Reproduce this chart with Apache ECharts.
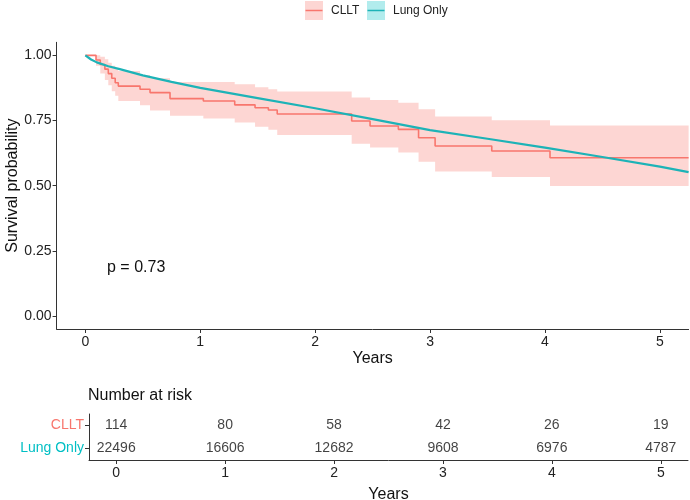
<!DOCTYPE html>
<html>
<head>
<meta charset="utf-8">
<script src="https://cdn.jsdelivr.net/npm/echarts@6/dist/echarts.min.js"></script>
<style>html,body{margin:0;padding:0;background:#fff}#c{width:690px;height:500px}</style>
</head>
<body>
<div id="c"></div>
<script>
// ---- data ----
const clltTime  = [0, 0.093, 0.13, 0.17, 0.2, 0.23, 0.26, 0.287, 0.476, 0.563, 0.737, 1.027, 1.30, 1.477, 1.593, 1.67, 2.318, 2.478, 2.724, 2.9, 3.044, 3.537, 4.044, 5.25];
const clltSurv  = [1.0, 0.982, 0.965, 0.947, 0.93, 0.912, 0.895, 0.882, 0.870, 0.857, 0.834, 0.825, 0.810, 0.799, 0.790, 0.775, 0.748, 0.729, 0.716, 0.684, 0.652, 0.633, 0.607, 0.607];
const clltUpper = [1.0, 1.0, 0.995, 0.985, 0.972, 0.960, 0.948, 0.940, 0.925, 0.912, 0.898, 0.898, 0.889, 0.878, 0.870, 0.861, 0.838, 0.829, 0.818, 0.793, 0.765, 0.751, 0.731, 0.731];
const clltLower = [1.0, 0.960, 0.930, 0.905, 0.885, 0.862, 0.845, 0.825, 0.808, 0.788, 0.768, 0.758, 0.742, 0.726, 0.714, 0.694, 0.661, 0.646, 0.627, 0.592, 0.554, 0.533, 0.499, 0.499];

const lungTime = [0, 0.05, 0.1, 0.2, 0.3, 0.5, 0.75, 1.0, 1.5, 2.0, 2.5, 3.0, 3.5, 4.0, 4.5, 5.0, 5.25];
const lungSurv = [1.0, 0.984, 0.973, 0.958, 0.947, 0.923, 0.898, 0.875, 0.836, 0.797, 0.755, 0.713, 0.680, 0.646, 0.610, 0.573, 0.552];

const yTicks = [0, 0.25, 0.5, 0.75, 1.0];
const xTicks = [0, 1, 2, 3, 4, 5];
const groups = ['CLLT', 'Lung Only'];
const riskTimes = [0, 1, 2, 3, 4, 5];
const clltRisk = [114, 80, 58, 42, 26, 19];
const lungRisk = [22496, 16606, 12682, 9608, 6976, 4787];
const pText = 'p = 0.73';

// ---- chart ----
const RED = '#F8766D', TEAL = '#00BFC4', TEAL_LINE = '#1DB3B7';
const FONT = '"Liberation Sans", Arial, sans-serif';
const chart = echarts.init(document.getElementById('c'));

const axisLineStyle = {color: '#333', width: 1};
const xAxisCommon = {
  type: 'value', min: -0.25, max: 5.25,
  axisLine: {show: true, onZero: false, lineStyle: axisLineStyle},
  axisTick: {show: true, length: 4, customValues: xTicks, lineStyle: axisLineStyle},
  axisLabel: {customValues: xTicks, margin: 6, fontSize: 14, color: '#222', fontFamily: FONT, formatter: v => String(v)},
  splitLine: {show: false},
  name: 'Years', nameLocation: 'middle', nameMoveOverlap: false,
  nameTextStyle: {fontSize: 16, color: '#111', fontFamily: FONT}
};

// confidence band: step polygon built through the axis scale (api.coord)
function renderBand(params, api) {
  const top = [], bottom = [];
  for (let i = 0; i < clltTime.length - 1; i++) {
    top.push(api.coord([clltTime[i], clltUpper[i]]));
    top.push(api.coord([clltTime[i + 1], clltUpper[i]]));
    bottom.push(api.coord([clltTime[i], clltLower[i]]));
    bottom.push(api.coord([clltTime[i + 1], clltLower[i]]));
  }
  const pts = top.concat(bottom.reverse());
  return {
    type: 'polygon',
    shape: {points: pts},
    style: {fill: 'rgba(248,118,109,0.3)', stroke: null}
  };
}

chart.setOption({
  animation: false,
  backgroundColor: '#fff',
  title: {
    text: 'Number at risk', left: 88, top: 388, padding: 0,
    textStyle: {fontSize: 16, fontWeight: 'normal', color: '#111', fontFamily: FONT}
  },
  grid: [
    {left: 56.6, top: 42.3, width: 632, height: 286.7, containLabel: false, outerBoundsMode: 'none'},
    {left: 89, top: 414, width: 599, height: 46, containLabel: false, outerBoundsMode: 'none'}
  ],
  xAxis: [
    Object.assign({}, xAxisCommon, {gridIndex: 0, nameGap: 22}),
    Object.assign({}, xAxisCommon, {gridIndex: 1, nameGap: 27})
  ],
  yAxis: [
    {
      gridIndex: 0, type: 'value', min: -0.05, max: 1.05,
      axisLine: {show: true, onZero: false, lineStyle: axisLineStyle},
      axisTick: {show: true, length: 4, customValues: yTicks, lineStyle: axisLineStyle},
      axisLabel: {customValues: yTicks, margin: 5, fontSize: 14, color: '#222', fontFamily: FONT, formatter: v => v.toFixed(2)},
      splitLine: {show: false},
      name: 'Survival probability', nameLocation: 'middle', nameGap: 36, nameMoveOverlap: false,
      nameTextStyle: {fontSize: 16, color: '#111', fontFamily: FONT}
    },
    {
      gridIndex: 1, type: 'category', data: groups, inverse: true,
      axisLine: {show: true, onZero: false, lineStyle: axisLineStyle},
      axisTick: {show: true, length: 4, alignWithLabel: true, lineStyle: axisLineStyle},
      axisLabel: {margin: 5, fontSize: 14, fontFamily: FONT,
        color: (v) => v === 'CLLT' ? RED : TEAL},
      splitLine: {show: false}
    }
  ],
  graphic: [
    // legend
    {type: 'rect', shape: {x: 305, y: 1, width: 18, height: 19}, style: {fill: 'rgba(248,118,109,0.3)'}},
    {type: 'line', shape: {x1: 305.5, y1: 10.5, x2: 322.5, y2: 10.5}, style: {stroke: RED, lineWidth: 1.5}},
    {type: 'text', x: 331, y: 10.5, style: {text: groups[0], fontSize: 12, fontFamily: FONT, fill: '#222', verticalAlign: 'middle'}},
    {type: 'rect', shape: {x: 367, y: 1, width: 18, height: 19}, style: {fill: 'rgba(0,191,196,0.3)'}},
    {type: 'line', shape: {x1: 367.5, y1: 10.5, x2: 384.5, y2: 10.5}, style: {stroke: TEAL_LINE, lineWidth: 1.5}},
    {type: 'text', x: 393, y: 10.5, style: {text: groups[1], fontSize: 12, fontFamily: FONT, fill: '#222', verticalAlign: 'middle'}},
    // p-value
    {type: 'text', x: 107, y: 268, style: {text: pText, fontSize: 16, fontFamily: FONT, fill: '#111', verticalAlign: 'middle'}}
  ],
  series: [
    {
      type: 'custom', xAxisIndex: 0, yAxisIndex: 0, silent: true, clip: true, z: 1,
      renderItem: renderBand, data: [[clltTime[0], clltSurv[0]]]
    },
    {
      name: 'CLLT', type: 'line', xAxisIndex: 0, yAxisIndex: 0, step: 'end', symbol: 'none',
      lineStyle: {color: RED, width: 1.6}, data: clltTime.map((t, i) => [t, clltSurv[i]]), z: 2
    },
    {
      name: 'Lung Only', type: 'line', xAxisIndex: 0, yAxisIndex: 0, symbol: 'none',
      lineStyle: {color: TEAL_LINE, width: 2.2}, data: lungTime.map((t, i) => [t, lungSurv[i]]), z: 3
    },
    {
      type: 'scatter', xAxisIndex: 1, yAxisIndex: 1, symbolSize: 0,
      data: riskTimes.map((t, i) => [t, groups[0], clltRisk[i]]),
      label: {show: true, position: 'inside', formatter: p => String(p.value[2]), fontSize: 14, color: '#111', fontFamily: FONT}
    },
    {
      type: 'scatter', xAxisIndex: 1, yAxisIndex: 1, symbolSize: 0,
      data: riskTimes.map((t, i) => [t, groups[1], lungRisk[i]]),
      label: {show: true, position: 'inside', formatter: p => String(p.value[2]), fontSize: 14, color: '#111', fontFamily: FONT}
    }
  ]
});
</script>
</body>
</html>
